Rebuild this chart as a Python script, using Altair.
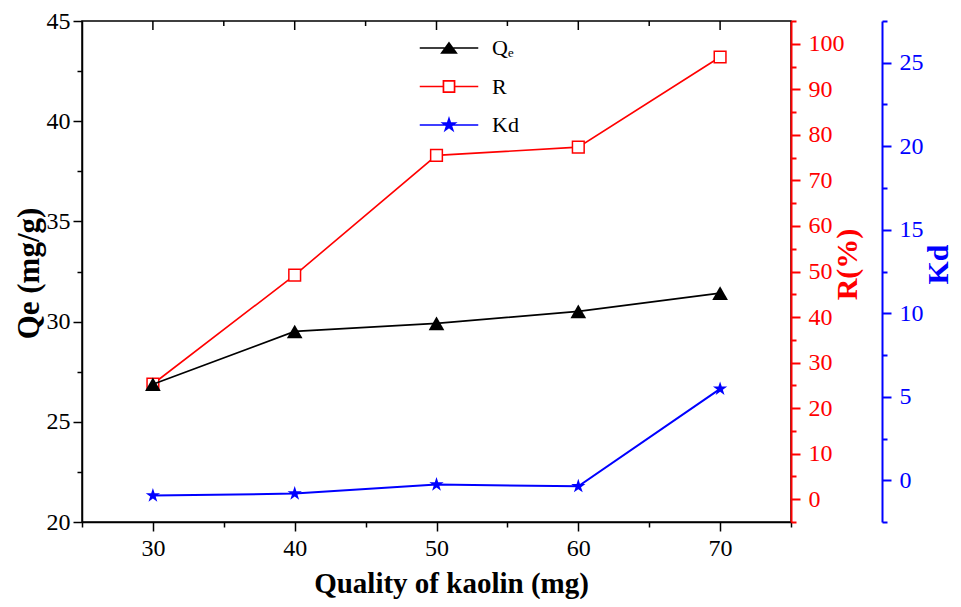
import altair as alt
import pandas as pd

# ---- data ----
mass = [30, 40, 50, 60, 70]
qe = [26.87, 29.51, 29.91, 30.51, 31.42]
r_pct = [25.3, 49.2, 75.5, 77.3, 97.1]
kd = [-0.92, -0.80, -0.26, -0.36, 5.47]

series = ["Qₑ", "R", "Kd"]

x_ticks = [25, 30, 35, 40, 45, 50, 55, 60, 65, 70, 75]
top_major = [30, 40, 50, 60, 70]
top_minor = [35, 45, 55, 65]
qe_ticks = [20, 22.5, 25, 27.5, 30, 32.5, 35, 37.5, 40, 42.5, 45]
r_ticks = [-5, 0, 5, 10, 15, 20, 25, 30, 35, 40, 45, 50, 55, 60, 65, 70, 75, 80, 85, 90, 95, 100, 105]
kd_ticks = [-2.5, 0, 2.5, 5, 7.5, 10, 12.5, 15, 17.5, 20, 22.5, 25, 27.5]

FONT = "Liberation Serif"
LABEL_SIZE = 24
STAR = ("M0,-1L0.2245,-0.309L0.951,-0.309L0.363,0.118L0.588,0.809L0,0.382"
        "L-0.588,0.809L-0.363,0.118L-0.951,-0.309L-0.2245,-0.309Z")
LEG_QE = "M-1.95,0H1.95M0,-0.33L0.48,0.33L-0.48,0.33Z"
LEG_R = "M-1.95,0H-0.37M0.37,0H1.95M-0.37,-0.37H0.37V0.37H-0.37Z"
LEG_KD = ("M-1.95,0H1.95M0,-0.42L0.094,-0.13L0.4,-0.13L0.152,0.05L0.247,0.34"
          "L0,0.16L-0.247,0.34L-0.152,0.05L-0.4,-0.13L-0.094,-0.13Z")

df = pd.DataFrame({"mass": mass, "qe": qe, "r": r_pct, "kd": kd})
df_major = pd.DataFrame({"mass": top_major})
df_minor = pd.DataFrame({"mass": top_minor})
df_leg = pd.DataFrame({"s": series})

xscale = alt.Scale(domain=[25, 75], nice=False, zero=False)
qe_scale = alt.Scale(domain=[20, 45], nice=False, zero=False)
r_scale = alt.Scale(domain=[-5, 105], nice=False, zero=False)
kd_scale = alt.Scale(domain=[-2.5, 27.5], nice=False, zero=False)


def tick_cond(test, major=9, minor=5):
    return {"condition": {"test": test, "value": major}, "value": minor}


x_axis = alt.Axis(
    orient="bottom", grid=False, values=x_ticks,
    labelExpr="datum.value % 10 === 0 ? datum.label : ''",
    tickSize=tick_cond("datum.value % 10 === 0"),
    labelOverlap=False, labelFlush=False, labelFont=FONT,
    labelFontSize=LABEL_SIZE, labelPadding=5, labelColor="black",
    domainColor="black", tickColor="black", domainWidth=1.5, tickWidth=1.5,
    title="Quality of kaolin (mg)", titleFont=FONT, titleFontSize=29, titleFontWeight="bold",
    titleColor="black", titleX=369, titleY=70, titleAlign="center",
    titleBaseline="alphabetic",
)

qe_axis = alt.Axis(
    orient="left", grid=False, values=qe_ticks,
    labelExpr="datum.value % 5 === 0 ? datum.label : ''",
    tickSize=tick_cond("datum.value % 5 === 0"),
    labelOverlap=False, labelFont=FONT, labelFontSize=LABEL_SIZE, labelPadding=3, labelColor="black",
    domainColor="black", tickColor="black", domainWidth=1.5, tickWidth=1.5,
    title="Qe (mg/g)", titleFont=FONT, titleFontSize=31, titleFontWeight="bold", titleColor="black",
    titleAngle=270, titleX=-53, titleY=252, titleAlign="center", titleBaseline="middle",
)

r_axis = alt.Axis(
    orient="right", grid=False, values=r_ticks,
    labelExpr="datum.value % 10 === 0 ? datum.label : ''",
    tickSize=tick_cond("datum.value % 10 === 0"),
    labelOverlap=False, labelFont=FONT, labelFontSize=LABEL_SIZE, labelPadding=8, labelColor="red",
    domainColor="red", tickColor="red", domainWidth=2, tickWidth=2,
    title="R(%)", titleFont=FONT, titleFontSize=30, titleFontWeight="bold", titleColor="red",
    titleAngle=270, titleX=56, titleY=243, titleAlign="center", titleBaseline="middle",
)

kd_axis = alt.Axis(
    orient="right", offset=91, grid=False, values=kd_ticks,
    labelExpr="datum.value % 5 === 0 ? datum.label : ''",
    tickSize=tick_cond("datum.value % 5 === 0"),
    labelOverlap=False, labelFont=FONT, labelFontSize=LABEL_SIZE, labelPadding=8, labelColor="blue",
    domainColor="blue", tickColor="blue", domainWidth=2, tickWidth=2,
    title="Kd", titleFont=FONT, titleFontSize=30, titleFontWeight="bold", titleColor="blue",
    titleAngle=270, titleX=56, titleY=243, titleAlign="center", titleBaseline="middle",
)

X = alt.X("mass:Q", scale=xscale, axis=x_axis)
Ykd = alt.Y("kd:Q", scale=kd_scale, axis=kd_axis)
Yr = alt.Y("r:Q", scale=r_scale, axis=r_axis)
Yqe = alt.Y("qe:Q", scale=qe_scale, axis=qe_axis)

base = alt.Chart(df)

kd_layer = alt.layer(
    base.mark_line(color="blue", strokeWidth=2).encode(x=X, y=Ykd),
    base.mark_point(shape=STAR, size=225, filled=True, color="blue", opacity=1).encode(x=X, y=Ykd),
)
r_layer = alt.layer(
    base.mark_line(color="red", strokeWidth=1.6).encode(x=X, y=Yr),
    base.mark_point(shape="square", size=137, filled=True, fill="white", stroke="red",
                    strokeWidth=1.5, opacity=1).encode(x=X, y=Yr),
)
qe_layer = alt.layer(
    base.mark_line(color="black", strokeWidth=1.7).encode(x=X, y=Yqe),
    base.mark_point(shape="triangle-up", size=246, filled=True, color="black", opacity=1).encode(x=X, y=Yqe),
)

top_major_layer = alt.Chart(df_major).mark_rule(color="black", strokeWidth=1.5).encode(
    x=X, y=alt.value(0), y2=alt.value(9))
top_minor_layer = alt.Chart(df_minor).mark_rule(color="black", strokeWidth=1.5).encode(
    x=X, y=alt.value(0), y2=alt.value(5))

legend = alt.Legend(
    title=None, orient="none", legendX=351, legendY=11, padding=0,
    rowPadding=11.5, labelOffset=27, labelFontSize=22, labelFont=FONT,
    labelColor="black", symbolStrokeWidth=1.7, symbolOpacity=1, symbolSize=900,
)
legend_layer = alt.Chart(df_leg).transform_filter("false").mark_point(
    filled=True, opacity=1, size=900).encode(
    shape=alt.Shape("s:N", scale=alt.Scale(domain=series, range=[LEG_QE, LEG_R, LEG_KD]),
                    legend=legend),
    fill=alt.Fill("s:N", scale=alt.Scale(domain=series, range=["black", "white", "blue"]),
                  legend=legend),
    stroke=alt.Stroke("s:N", scale=alt.Scale(domain=series, range=["black", "red", "blue"]),
                      legend=legend),
)

chart = alt.layer(
    kd_layer, r_layer, qe_layer, top_major_layer, top_minor_layer, legend_layer
).resolve_scale(y="independent").properties(
    width=709, height=501, background="white",
    autosize=alt.AutoSizeParams(type="none"),
    padding={"left": 74, "top": 13, "right": 162, "bottom": 77},
).configure_view(stroke="black", strokeWidth=1.5).configure_axis(
    grid=False, labelFont=FONT, titleFont=FONT
)

chart.save("out.html", embed_options={"renderer": "svg", "actions": False})
